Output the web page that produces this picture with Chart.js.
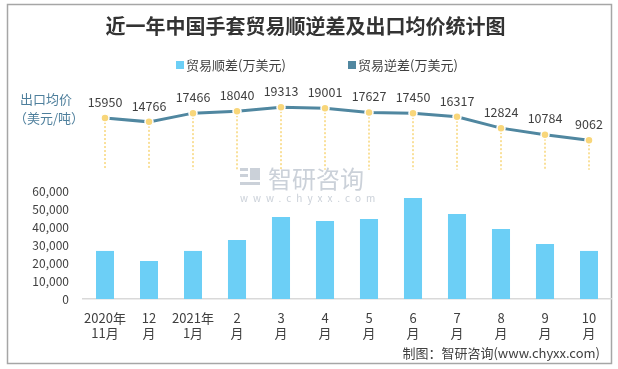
<!DOCTYPE html>
<html>
<head>
<meta charset="utf-8">
<script src="https://cdn.jsdelivr.net/npm/chart.js@4"></script>
<style>
  body { margin: 0; background: #fff; }
  #wrap { width: 618px; height: 369px; }
</style>
</head>
<body>
<div id="wrap"><canvas id="grafico" width="618" height="369"></canvas></div>
<script>
const meses = [['2020年', '11月'], ['12', '月'], ['2021年', '1月'], ['2', '月'], ['3', '月'], ['4', '月'],
  ['5', '月'], ['6', '月'], ['7', '月'], ['8', '月'], ['9', '月'], ['10', '月']];
// 贸易顺差(万美元)
const superavit = [26700, 21100, 26700, 32800, 45600, 43300, 44400, 56100, 47200, 38900, 30600, 26700];
// 出口均价(美元/吨)
const precoMedio = [15950, 14766, 17466, 18040, 19313, 19001, 17627, 17450, 16317, 12824, 10784, 9062];
const ticksY = [0, 10000, 20000, 30000, 40000, 50000, 60000];

const fonte = '"Noto Sans CJK SC", "Noto Sans", sans-serif';

// moldura, legenda, marca d'agua, rotulos e linhas pontilhadas
const extras = {
  id: 'extras',
  beforeDraw(chart) {
    const ctx = chart.ctx;
    ctx.save();
    ctx.fillStyle = '#fff';
    ctx.fillRect(0, 0, chart.width, chart.height);
    ctx.strokeStyle = '#a6a6a6';
    ctx.lineWidth = 1.5;
    ctx.strokeRect(7.5, 4.5, 604, 359);
    ctx.restore();
  },
  beforeDatasetsDraw(chart) {
    const ctx = chart.ctx;
    const y2 = chart.scales.y2;
    const meta = chart.getDatasetMeta(1);
    // marca d'agua
    ctx.save();
    ctx.fillStyle = 'rgba(190,198,208,0.8)';
    ctx.font = '24px ' + fonte;
    ctx.textAlign = 'left';
    ctx.textBaseline = 'middle';
    ctx.fillText('智研咨询', 268, 179);
    ctx.font = '10px ' + fonte;
    ctx.letterSpacing = '5px';
    ctx.fillText('www.chyxx.com', 240, 198);
    ctx.letterSpacing = '0px';
    ctx.fillRect(240, 168, 8, 3);
    ctx.fillRect(240, 174, 8, 3);
    ctx.fillRect(250, 168, 10, 12);
    ctx.fillRect(240, 182, 20, 3);
    ctx.restore();
    // linhas pontilhadas
    ctx.save();
    ctx.strokeStyle = '#f8d67a';
    ctx.lineWidth = 1.5;
    ctx.setLineDash([2, 2]);
    const base = y2.getPixelForValue(0);
    meta.data.forEach(p => {
      ctx.beginPath();
      ctx.moveTo(p.x, p.y);
      ctx.lineTo(p.x, base);
      ctx.stroke();
    });
    ctx.restore();
  },
  afterDatasetsDraw(chart) {
    const ctx = chart.ctx;
    const meta = chart.getDatasetMeta(1);
    ctx.save();
    ctx.fillStyle = '#404040';
    ctx.font = '12.5px ' + fonte;
    ctx.textAlign = 'center';
    ctx.textBaseline = 'middle';
    meta.data.forEach((p, i) => {
      ctx.fillText(precoMedio[i], p.x, p.y - 16);
    });
    // legenda
    ctx.textAlign = 'left';
    ctx.font = '13px ' + fonte;
    const posLegenda = [176, 348];
    chart.data.datasets.forEach((ds, i) => {
      ctx.fillStyle = ds.backgroundColor;
      ctx.fillRect(posLegenda[i], 61, 8, 8);
      ctx.fillStyle = '#404040';
      ctx.fillText(ds.label, posLegenda[i] + 10, 65);
    });
    ctx.fillStyle = '#4e7f9c';
    ctx.fillText('出口均价', 20, 99);
    ctx.fillText('（美元/吨）', 14, 118);
    ctx.fillStyle = '#404040';
    ctx.textAlign = 'right';
    ctx.fillText('制图：智研咨询(www.chyxx.com)', 600, 353);
    ctx.restore();
  }
};

new Chart(document.getElementById('grafico'), {
  data: {
    labels: meses,
    datasets: [{
      type: 'bar',
      label: '贸易顺差(万美元)',
      data: superavit,
      backgroundColor: '#6ccff6',
      categoryPercentage: 1,
      barPercentage: 0.41,
      yAxisID: 'y',
      order: 2
    }, {
      type: 'line',
      label: '贸易逆差(万美元)',
      data: precoMedio,
      borderColor: '#5087a0',
      backgroundColor: '#5087a0',
      borderWidth: 3,
      pointRadius: 4,
      pointBackgroundColor: '#f8d67a',
      pointBorderColor: '#fff',
      pointBorderWidth: 1.5,
      tension: 0,
      yAxisID: 'y2',
      order: 1
    }]
  },
  options: {
    responsive: false,
    animation: false,
    layout: { padding: { left: 0, right: 7, top: 0, bottom: 0 } },
    plugins: {
      title: {
        display: true,
        text: '近一年中国手套贸易顺逆差及出口均价统计图',
        color: '#333',
        font: { family: fonte, size: 20, weight: 'bold' },
        padding: { top: 14, bottom: 54 }
      },
      legend: { display: false },
      tooltip: { enabled: false }
    },
    scales: {
      x: {
        grid: { display: false },
        border: { color: '#d9d9d9', width: 1.5 },
        ticks: { color: '#404040', font: { family: fonte, size: 13 }, maxRotation: 0, autoSkip: false, padding: 3 },
        afterFit(scale) { scale.height = 70; }
      },
      y: {
        min: 0,
        max: 115000,
        grid: { display: false },
        border: { display: false },
        afterBuildTicks(scale) { scale.ticks = ticksY.map(v => ({ value: v })); },
        ticks: {
          color: '#404040',
          font: { family: fonte, size: 12 },
          padding: 6,
          callback: v => v.toLocaleString('en-US')
        },
        afterFit(scale) { scale.width = 83; }
      },
      y2: {
        display: false,
        min: -40000,
        max: 24000
      }
    }
  },
  plugins: [extras]
});
</script>
</body>
</html>
